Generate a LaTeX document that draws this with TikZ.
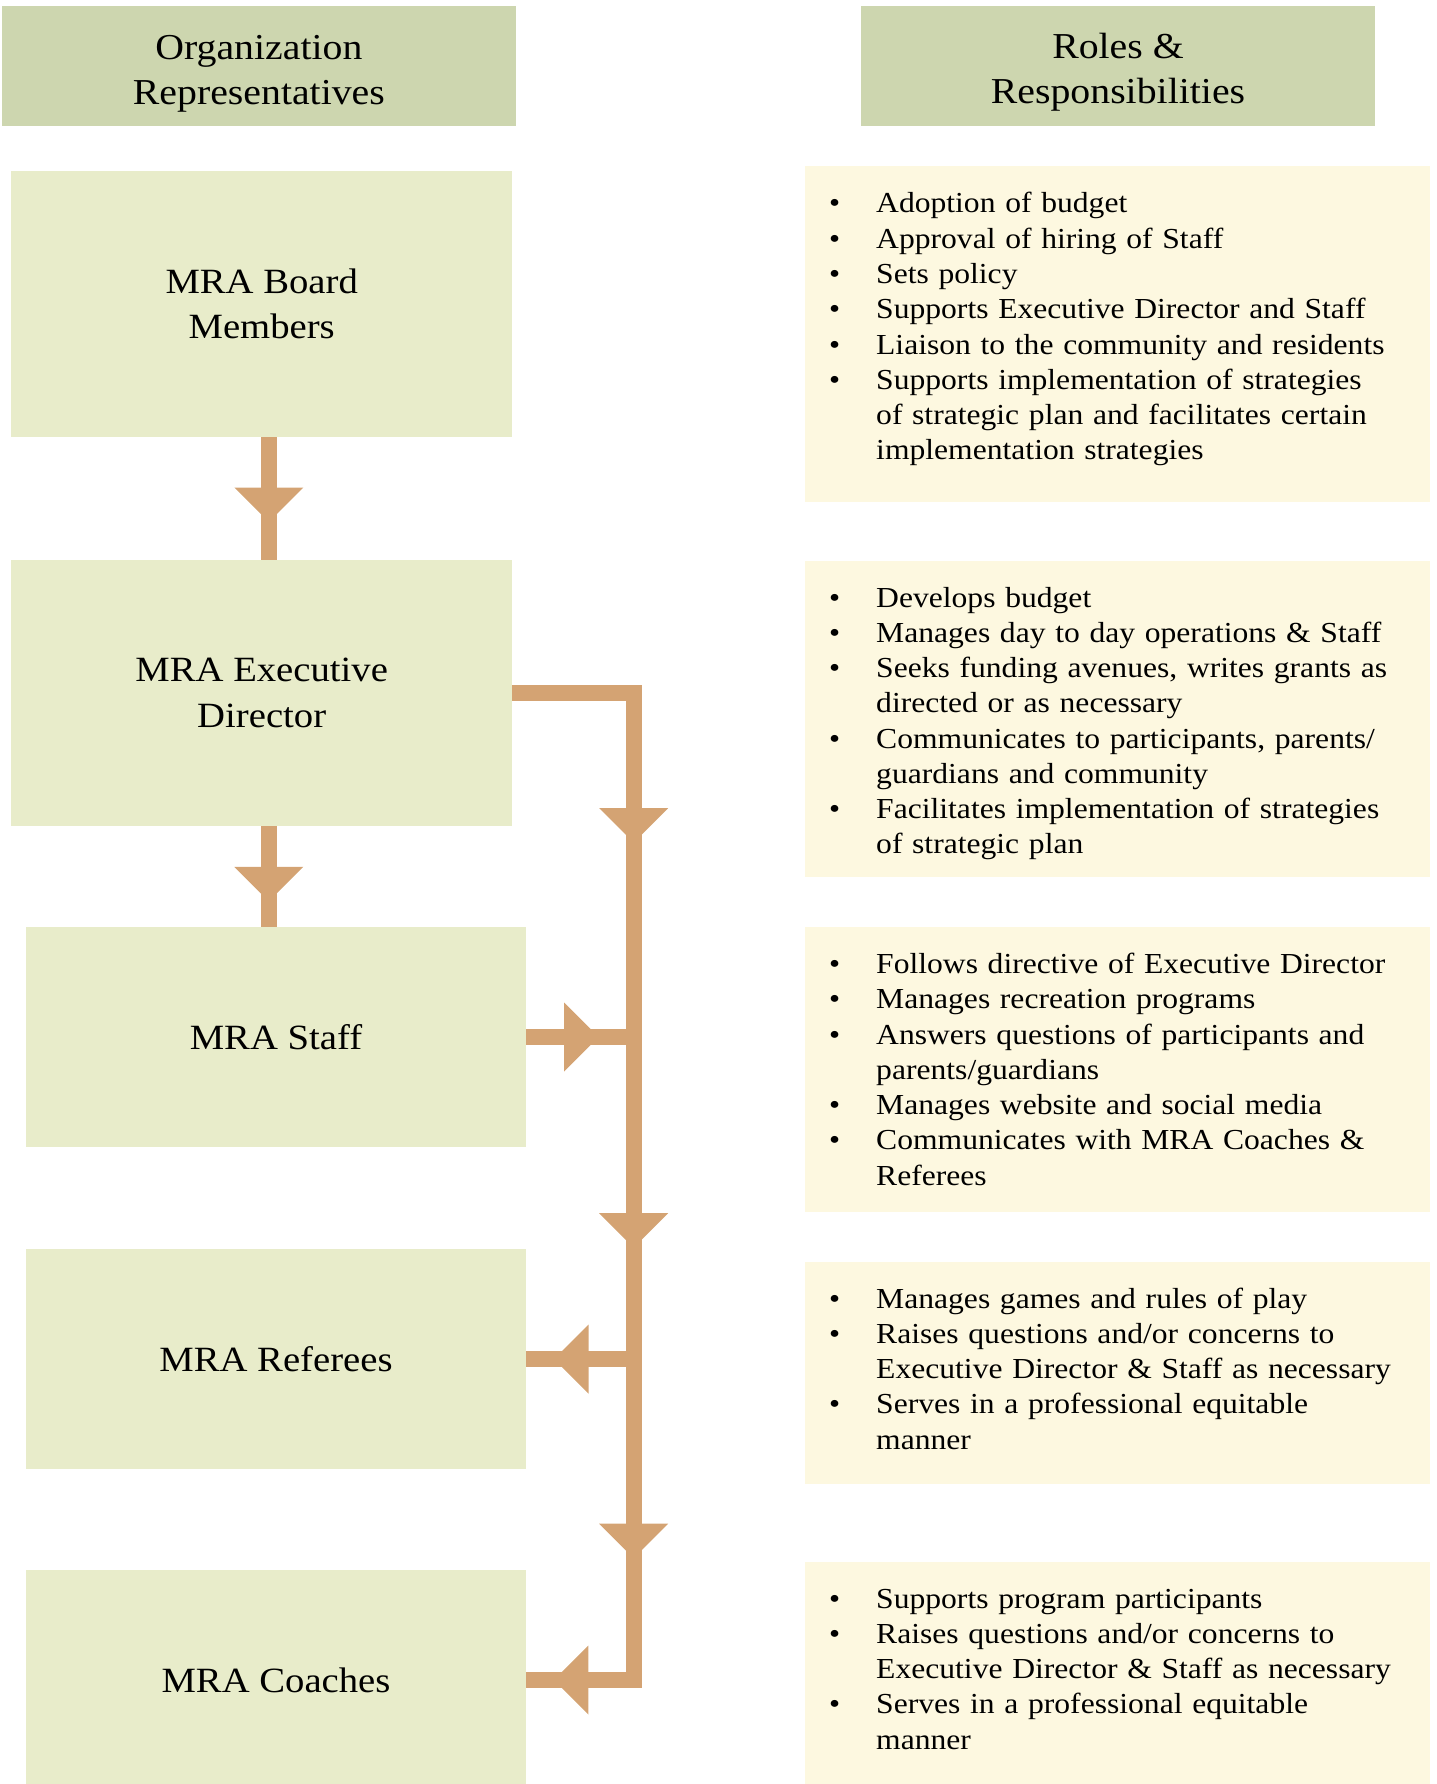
\documentclass[tikz,border=0pt]{standalone}
\usepackage{fontspec}
\setmainfont{Liberation Serif}[FakeStretch=1.09]
\usetikzlibrary{decorations.markings}
\definecolor{hdr}{RGB}{205,214,175}
\definecolor{lbox}{RGB}{232,236,202}
\definecolor{rbox}{RGB}{253,248,224}
\definecolor{arr}{RGB}{212,163,115}
\newcommand\itm[1]{\noindent\hangindent=47pt\hangafter=1\makebox[47pt][l]{\textbullet}#1\par}
\begin{document}
\begin{tikzpicture}[x=1pt,y=-1pt,
  hdrbox/.style={fill=hdr, inner sep=0pt, minimum width=513.2pt, minimum height=120.6pt},
  hdrtext/.style={inner sep=0pt, align=center, font=\fontsize{36.5}{45}\selectfont},
  orgbox/.style={fill=lbox, inner sep=0pt, align=center, font=\fontsize{35.5}{45.5}\selectfont},
  rolebox/.style={fill=rbox, inner sep=0pt, minimum width=624.5pt},
  roletext/.style={anchor=base west, inner sep=0pt, text width=600pt, align=left, font=\fontsize{29}{35.27}\selectfont},
  conn/.style={draw=arr, line width=16pt},
  headat/.style={postaction={decorate, decoration={markings, mark=at position #1 with {\fill[arr] (0pt,0pt) -- (-34.5pt,34.5pt) -- (-34.5pt,-34.5pt) -- cycle;}}}}
]
\useasboundingbox (0,0) rectangle (1436,1784);
\clip (0,0) rectangle (1436,1784);

% headers
\node[hdrbox] (h1) at (258.9,66) {};
\node[hdrbox] (h2) at (1118,66) {};
\node[hdrtext] (h1t) at ([yshift=-8pt]h1.center) {Organization\\Representatives};
\node[hdrtext] (h2t) at ([yshift=-6.5pt]h2.center) {Roles \&\\Responsibilities};

% organization boxes
\node[orgbox, minimum width=500.6pt, minimum height=266.3pt] (board) at (261.7,303.85) {MRA Board\\Members};
\node[orgbox, minimum width=500.6pt, minimum height=266pt] (exec) at (261.7,693) {MRA Executive\\Director};
\node[orgbox, minimum width=500pt, minimum height=220pt] (staff) at (276,1037) {MRA Staff};
\node[orgbox, minimum width=500pt, minimum height=220pt] (ref) at (276,1359) {MRA Referees};
\node[orgbox, minimum width=500pt, minimum height=220pt] (coach) at (276,1680) {MRA Coaches};

% role boxes
\node[rolebox, minimum height=336pt] (r1) at (1117.25,334) {};
\node[rolebox, minimum height=316pt] (r2) at (1117.25,719) {};
\node[rolebox, minimum height=285pt] (r3) at (1117.25,1069.5) {};
\node[rolebox, minimum height=222pt] (r4) at (1117.25,1373) {};
\node[rolebox, minimum height=228pt] (r5) at (1117.25,1676) {};

\node[roletext] (t1) at (829,213) {%
\itm{Adoption of budget}%
\itm{Approval of hiring of Staff}%
\itm{Sets policy}%
\itm{Supports Executive Director and Staff}%
\itm{Liaison to the community and residents}%
\itm{Supports implementation of strategies\newline of strategic plan and facilitates certain\newline implementation strategies}};

\node[roletext] (t2) at (829,607) {%
\itm{Develops budget}%
\itm{Manages day to day operations \& Staff}%
\itm{Seeks funding avenues, writes grants as\newline directed or as necessary}%
\itm{Communicates to participants, parents/\newline guardians and community}%
\itm{Facilitates implementation of strategies\newline of strategic plan}};

\node[roletext] (t3) at (829,973.5) {%
\itm{Follows directive of Executive Director}%
\itm{Manages recreation programs}%
\itm{Answers questions of participants and\newline parents/guardians}%
\itm{Manages website and social media}%
\itm{Communicates with MRA Coaches \&\newline Referees}};

\node[roletext] (t4) at (829,1308) {%
\itm{Manages games and rules of play}%
\itm{Raises questions and/or concerns to\newline Executive Director \& Staff as necessary}%
\itm{Serves in a professional equitable\newline manner}};

\node[roletext] (t5) at (829,1608) {%
\itm{Supports program participants}%
\itm{Raises questions and/or concerns to\newline Executive Director \& Staff as necessary}%
\itm{Serves in a professional equitable\newline manner}};

% connectors
\draw[conn, headat=84.8pt] ([xshift=7.1pt]board.south) -- ([xshift=7.1pt]exec.north);
\draw[conn, headat=75.2pt] ([xshift=7.1pt]exec.south) -- ([xshift=-7.2pt]staff.north);

\coordinate (trunk) at (633.7,693);
\draw[conn, headat=72.5pt] (staff.east) -- (trunk |- staff.east);
\draw[conn, headat=79.7pt] (trunk |- ref.east) -- (ref.east);
\draw[conn, line join=miter, headat=271.2pt, headat=676.2pt, headat=986.7pt, headat=1188.4pt]
  (exec.east) -- (trunk) |- (coach.east);
\end{tikzpicture}
\end{document}
